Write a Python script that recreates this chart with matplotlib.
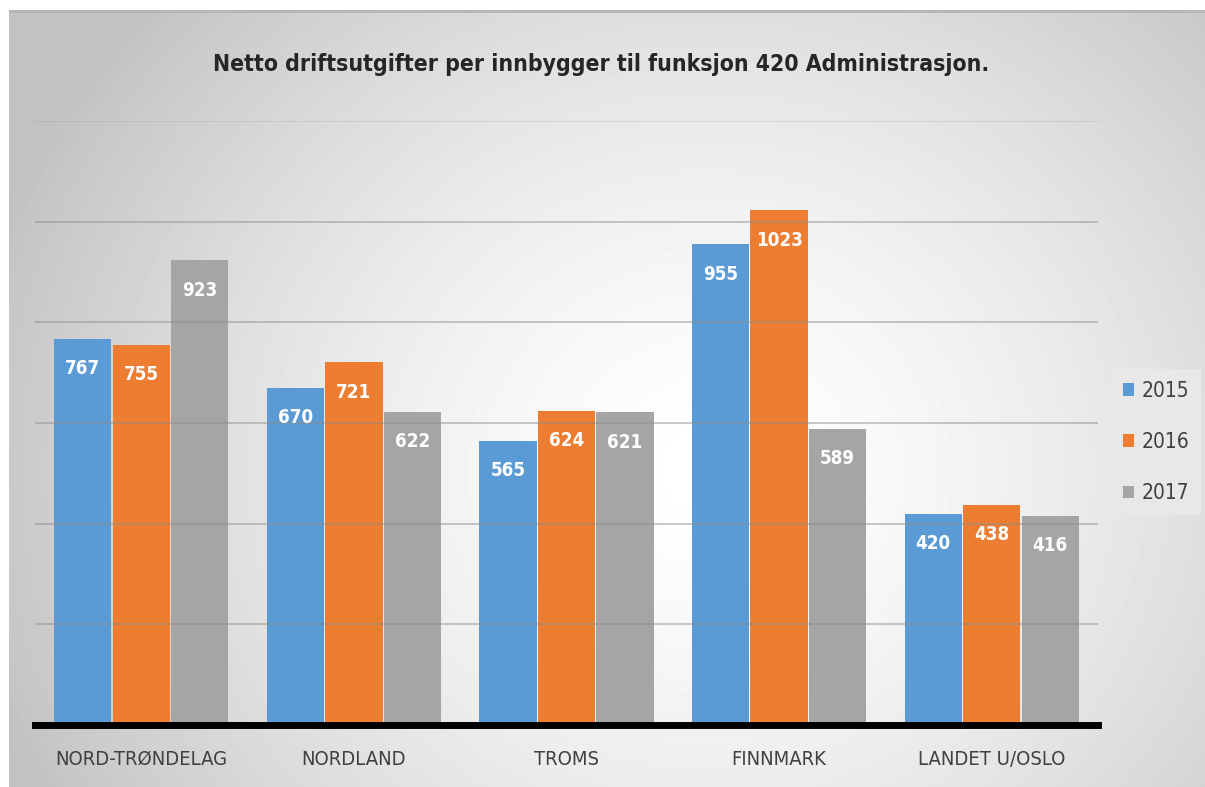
import numpy as np
import matplotlib
matplotlib.use("Agg")
import matplotlib.pyplot as plt
from matplotlib.patches import Patch

categories = ["NORD-TRØNDELAG", "NORDLAND", "TROMS", "FINNMARK", "LANDET U/OSLO"]
years = ["2015", "2016", "2017"]
v2015 = [767, 670, 565, 955, 420]
v2016 = [755, 721, 624, 1023, 438]
v2017 = [923, 622, 621, 589, 416]
colors = ["#5b9bd5", "#ed7d31", "#a5a5a5"]

plt.rcParams["font.family"] = ["DejaVu Sans"]
plt.rcParams["font.stretch"] = "condensed"

W, H = 1205, 787
fig = plt.figure(figsize=(W / 100, H / 100), dpi=100)
fig.patch.set_facecolor("white")

# radial grey background of the chart frame
bg = fig.add_axes([9 / W, 0, 1 - 9 / W, (H - 10) / H])
bg.set_axis_off()
yy, xx = np.mgrid[0:777, 0:1196]
cx, cy = 700, 460
r = np.sqrt(((xx - cx) / 760.0) ** 2 + ((yy - cy) / 700.0) ** 2)
shade = 1.0 - 0.24 * np.clip(r, 0, 1) ** 1.5
bg.imshow(shade, cmap="gray", vmin=0, vmax=1, aspect="auto", interpolation="bilinear")
bg.axhline(0, color="#b5b5b5", lw=2)

ax = fig.add_axes([35 / W, (H - 725) / H, (1098 - 35) / W, (725 - 121) / H])
ax.patch.set_alpha(0)
x = np.arange(len(categories))
w = 0.275
for k, (vals, col) in enumerate(zip([v2015, v2016, v2017], colors)):
    bars = ax.bar(x + (k - 1) * w, vals, w * 0.98, color=col, zorder=2)
    for b, v in zip(bars, vals):
        ax.annotate(str(v), (b.get_x() + b.get_width() / 2, v), xytext=(0, -30),
                    textcoords="offset pixels", ha="center", va="center",
                    color="white", fontsize=13.5, fontweight="bold", zorder=4)

ax.set_xlim(-0.5, len(categories) - 0.5)
ax.set_ylim(0, 1200)
ax.set_yticks([200, 400, 600, 800, 1000, 1200])
ax.yaxis.grid(True, color="#8c8c8c", lw=1.2, alpha=0.55, zorder=3)
ax.get_ygridlines()[-1].set_alpha(0.25)
ax.set_axisbelow(False)
ax.tick_params(axis="y", left=False, labelleft=False)
ax.tick_params(axis="x", length=0, pad=18, labelsize=14.5, labelcolor="#404040")
ax.set_xticks(x)
ax.set_xticklabels(categories)
for s in ("top", "right", "left"):
    ax.spines[s].set_visible(False)
ax.spines["bottom"].set_color("black")
ax.spines["bottom"].set_linewidth(5)
ax.spines["bottom"].set_zorder(5)

fig.text(601 / W, 1 - 65 / H, "Netto driftsutgifter per innbygger til funksjon 420 Administrasjon.",
         ha="center", va="center", fontsize=16.5, fontweight="bold", color="#262626")

handles = [Patch(facecolor=c, edgecolor="none") for c in colors]
leg = fig.legend(handles, years, loc="center right", bbox_to_anchor=(1201 / W, 1 - 442 / H),
                 fontsize=15, frameon=True, fancybox=False, facecolor="#e8e8e8", edgecolor="none",
                 framealpha=1, handlelength=0.55, handleheight=0.55, handletextpad=0.35,
                 labelspacing=1.5, borderpad=0.55, borderaxespad=0)
for t in leg.get_texts():
    t.set_color("#404040")

fig.savefig("out.png", dpi=100)
